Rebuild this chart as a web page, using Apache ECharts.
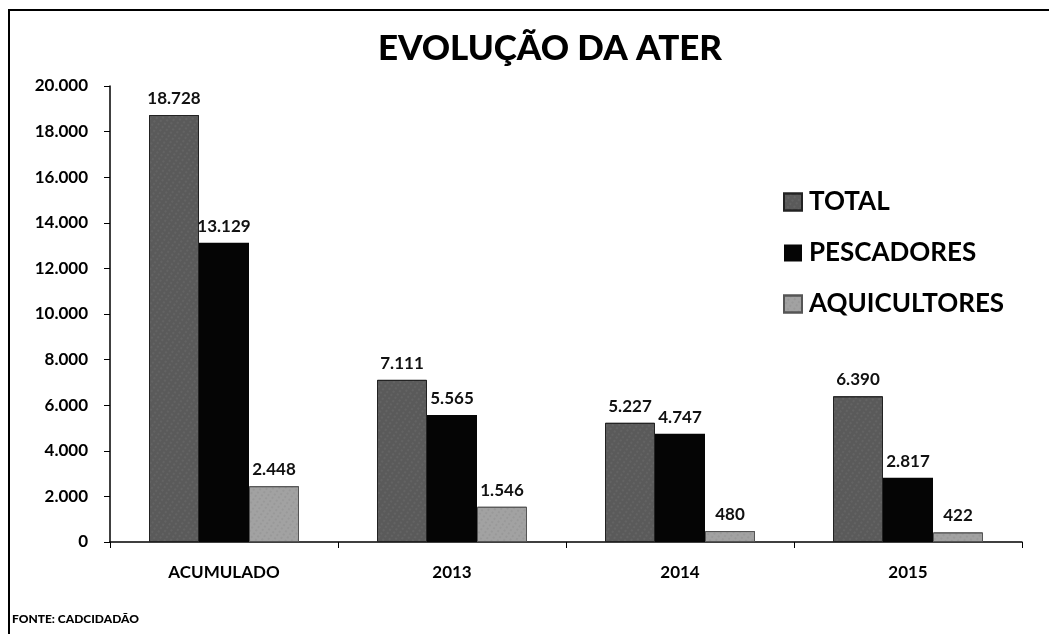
<!DOCTYPE html>
<html>
<head>
<meta charset="utf-8">
<script src="https://cdn.jsdelivr.net/npm/echarts@6/dist/echarts.min.js"></script>
<style>
html,body{margin:0;padding:0;background:#fff;}
#c{width:1049px;height:634px;}
</style>
</head>
<body>
<div id="c"></div>
<script>
const categories = ['ACUMULADO', '2013', '2014', '2015'];
const seriesNames = ['TOTAL', 'PESCADORES', 'AQUICULTORES'];
const total = [18728, 7111, 5227, 6390];
const pescadores = [13129, 5565, 4747, 2817];
const aquicultores = [2448, 1546, 480, 422];
const yMin = 0, yMax = 20000, yStep = 2000;

function fmt(v){
  return String(v).replace(/\B(?=(\d{3})+(?!\d))/g, '.');
}
const FONT = 'Lato';
const chart = echarts.init(document.getElementById('c'), null, {renderer:'canvas'});
const labelCfg = {
  show:true, position:'top', distance:8,
  fontFamily:FONT, fontWeight:'bold', fontSize:17, color:'#111',
  formatter: p => fmt(p.value)
};
chart.setOption({
  backgroundColor:'#fff',
  animation:false,
  title:{
    text:'EVOLUÇÃO DA ATER', left:545, textAlign:'center', top:26,
    textStyle:{fontFamily:FONT, fontWeight:'900', fontSize:35, color:'#000'}
  },
  legend:{
    orient:'vertical', left:778, top:184, itemGap:25, icon:'rect',
    itemWidth:18, itemHeight:17,
    textStyle:{fontFamily:FONT, fontWeight:'bold', fontSize:26, color:'#000', padding:[0,0,0,2]},
    data:seriesNames
  },
  grid:{left:110, right:27, top:86, bottom:92, containLabel:false},
  xAxis:{
    type:'category', data:categories,
    axisLine:{lineStyle:{color:'#000', width:1.5}},
    axisTick:{show:true, length:6, lineStyle:{color:'#000'}},
    axisLabel:{fontFamily:FONT, fontWeight:'bold', fontSize:17, color:'#000', margin:22}
  },
  yAxis:{
    type:'value', min:yMin, max:yMax, interval:yStep,
    axisLine:{show:true, lineStyle:{color:'#000', width:1.5}},
    axisTick:{show:true, length:6, lineStyle:{color:'#000'}},
    splitLine:{show:false},
    axisLabel:{fontFamily:FONT, fontWeight:'bold', fontSize:17, color:'#000', margin:22, formatter:v=>fmt(v)}
  },
  series:[
    {name:seriesNames[0], type:'bar', data:total, barWidth:50, barGap:'0%',
     itemStyle:{color:'#5a5a5a', borderColor:'#222', borderWidth:1,
       decal:{symbol:'rect', symbolSize:0.5, color:'rgba(200,200,200,0.35)', dashArrayX:[2,3], dashArrayY:[2,2], rotation:0.6}},
     label:labelCfg},
    {name:seriesNames[1], type:'bar', data:pescadores, barWidth:50, barGap:'0%',
     itemStyle:{color:'#050505'},
     label:labelCfg},
    {name:seriesNames[2], type:'bar', data:aquicultores, barWidth:50, barGap:'0%',
     itemStyle:{color:'#a2a2a2', borderColor:'#555', borderWidth:1,
       decal:{symbol:'rect', symbolSize:0.5, color:'rgba(60,60,60,0.35)', dashArrayX:[2,3], dashArrayY:[2,2], rotation:0.6}},
     label:labelCfg}
  ],
  graphic:[
    {type:'rect', shape:{x:9, y:10, width:1200, height:800}, style:{fill:'none', stroke:'#000', lineWidth:2}, silent:true},
    {type:'text', left:12, top:613, style:{text:'FONTE: CADCIDADÃO', fontFamily:FONT, fontWeight:'900', fontSize:12, fill:'#000'}}
  ]
});
</script>
</body>
</html>
